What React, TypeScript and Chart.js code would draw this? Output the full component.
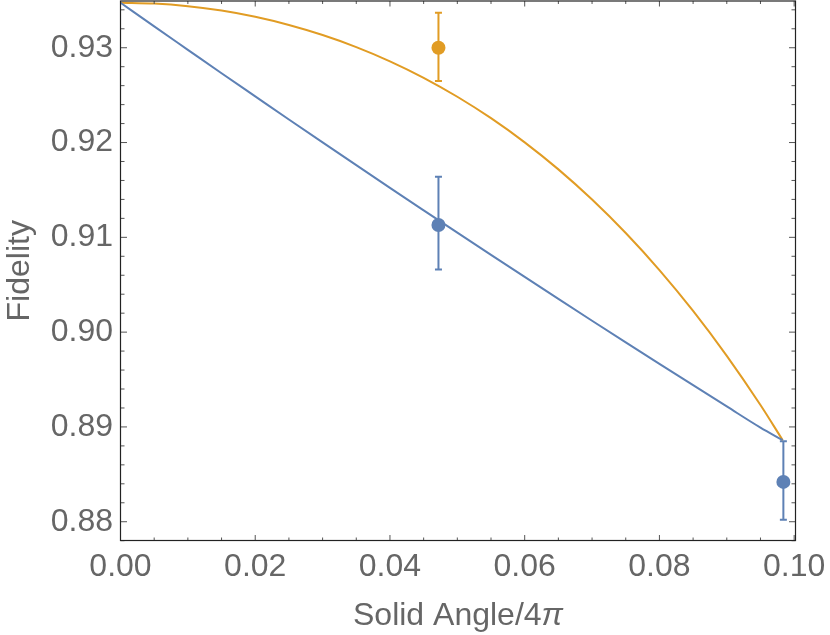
import { useEffect, useRef } from 'react';
import { Chart, registerables } from 'chart.js';

Chart.register(...registerables);

// ---- data ----
const curveX = [0, 0.005, 0.01, 0.015, 0.02, 0.025, 0.03, 0.035, 0.04, 0.045, 0.05, 0.055, 0.06, 0.065, 0.07, 0.075, 0.08, 0.085, 0.09, 0.095, 0.0983];
const blueCurveY = [0.93475, 0.93225, 0.92978, 0.92731, 0.92487, 0.92243, 0.92001, 0.91761, 0.91522, 0.91285, 0.91049, 0.90815, 0.90582, 0.9035, 0.9012, 0.89892, 0.89665, 0.8944, 0.89216, 0.88993, 0.8886];
const orangeCurveY = [0.93475, 0.93466, 0.93438, 0.93392, 0.93326, 0.9324, 0.93134, 0.93007, 0.92857, 0.92683, 0.92483, 0.92257, 0.92002, 0.91717, 0.91399, 0.91046, 0.90655, 0.90224, 0.8975, 0.89231, 0.8886];

const bluePointX = [0.0472, 0.0984];
const bluePointY = [0.9113, 0.8842];
const blueErrLow = [0.9066, 0.8802];
const blueErrHigh = [0.9164, 0.8885];

const orangePointX = [0.0472];
const orangePointY = [0.93];
const orangeErrLow = [0.9265];
const orangeErrHigh = [0.9337];

const xMajorTicks = [0, 0.02, 0.04, 0.06, 0.08, 0.1];
const xTickLabels = ['0.00', '0.02', '0.04', '0.06', '0.08', '0.10'];
const xMinorTicks = [0.005, 0.01, 0.015, 0.025, 0.03, 0.035, 0.045, 0.05, 0.055, 0.065, 0.07, 0.075, 0.085, 0.09, 0.095];
const yMajorTicks = [0.88, 0.89, 0.9, 0.91, 0.92, 0.93];
const yTickLabels = ['0.88', '0.89', '0.90', '0.91', '0.92', '0.93'];
const yMinorTicks = [0.878, 0.882, 0.884, 0.886, 0.888, 0.892, 0.894, 0.896, 0.898, 0.902, 0.904, 0.906, 0.908, 0.912, 0.914, 0.916, 0.918, 0.922, 0.924, 0.926, 0.928, 0.932, 0.934];

const xTitleMain = 'Solid Angle/4';
const xTitleSymbol = 'π';
const yTitle = 'Fidelity';

const X_MIN = 0;
const X_MAX = 0.1002;
const Y_MIN = 0.87802;
const Y_MAX = 0.93493;

const BLUE = 'rgb(94,129,181)';
const ORANGE = 'rgb(225,156,36)';
const TEXT = '#666666';
const FONT = "'Liberation Sans', Arial, sans-serif";

const errorBars = [
  { color: BLUE, x: bluePointX, lo: blueErrLow, hi: blueErrHigh },
  { color: ORANGE, x: orangePointX, lo: orangeErrLow, hi: orangeErrHigh },
];

const errorBarPlugin = {
  id: 'errorBars',
  beforeDatasetsDraw(chart: any) {
    const { ctx, scales } = chart;
    const xs = scales.x;
    const ys = scales.y;
    ctx.save();
    ctx.lineWidth = 2;
    errorBars.forEach((eb) => {
      ctx.strokeStyle = eb.color;
      eb.x.forEach((xv, i) => {
        const px = xs.getPixelForValue(xv);
        const pLo = ys.getPixelForValue(eb.lo[i]);
        const pHi = ys.getPixelForValue(eb.hi[i]);
        ctx.beginPath();
        ctx.moveTo(px, pLo);
        ctx.lineTo(px, pHi);
        ctx.moveTo(px - 3.5, pLo);
        ctx.lineTo(px + 3.5, pLo);
        ctx.moveTo(px - 3.5, pHi);
        ctx.lineTo(px + 3.5, pHi);
        ctx.stroke();
      });
    });
    ctx.restore();
  },
};

const framePlugin = {
  id: 'frameTicks',
  afterDraw(chart: any) {
    const { ctx, chartArea, scales } = chart;
    const { left, right, top, bottom } = chartArea;
    const xs = scales.x;
    const ys = scales.y;
    ctx.save();
    ctx.strokeStyle = '#555555';
    ctx.lineWidth = 1;
    const tick = (x1: number, y1: number, x2: number, y2: number) => {
      ctx.beginPath();
      ctx.moveTo(x1, y1);
      ctx.lineTo(x2, y2);
      ctx.stroke();
    };
    xMajorTicks.forEach((v) => {
      const p = xs.getPixelForValue(v);
      if (p < left - 0.5 || p > right + 0.5) return;
      tick(p, bottom, p, bottom - 5.5);
      tick(p, top, p, top + 5.5);
    });
    xMinorTicks.forEach((v) => {
      const p = xs.getPixelForValue(v);
      tick(p, bottom, p, bottom - 3);
      tick(p, top, p, top + 3);
    });
    yMajorTicks.forEach((v) => {
      const p = ys.getPixelForValue(v);
      tick(left, p, left + 6.5, p);
      tick(right, p, right - 6.5, p);
    });
    yMinorTicks.forEach((v) => {
      const p = ys.getPixelForValue(v);
      tick(left, p, left + 4, p);
      tick(right, p, right - 4, p);
    });
    ctx.strokeStyle = '#222222';
    ctx.lineWidth = 1.2;
    ctx.strokeRect(left, top, right - left, bottom - top);

    // x-axis title with an italic pi, as in the reference
    const normal = `32px ${FONT}`;
    const italic = `italic 32px ${FONT}`;
    ctx.font = normal;
    const w1 = ctx.measureText(xTitleMain).width;
    ctx.font = italic;
    const w2 = ctx.measureText(xTitleSymbol).width;
    const cx = (left + right) / 2;
    const x0 = cx - (w1 + w2) / 2;
    const baseline = 625;
    ctx.fillStyle = TEXT;
    ctx.textAlign = 'left';
    ctx.textBaseline = 'alphabetic';
    ctx.font = normal;
    ctx.fillText(xTitleMain, x0, baseline);
    ctx.font = italic;
    ctx.fillText(xTitleSymbol, x0 + w1, baseline);
    ctx.restore();
  },
};

export default function App() {
  const ref = useRef<HTMLCanvasElement | null>(null);

  useEffect(() => {
    if (!ref.current) return;
    const chart = new Chart(ref.current, {
      type: 'scatter',
      data: {
        datasets: [
          {
            type: 'line',
            data: curveX.map((x, i) => ({ x, y: blueCurveY[i] })),
            borderColor: BLUE,
            borderWidth: 2,
            pointRadius: 0,
            fill: false,
            cubicInterpolationMode: 'monotone',
          } as any,
          {
            type: 'line',
            data: curveX.map((x, i) => ({ x, y: orangeCurveY[i] })),
            borderColor: ORANGE,
            borderWidth: 2,
            pointRadius: 0,
            fill: false,
            cubicInterpolationMode: 'monotone',
          } as any,
          {
            type: 'scatter',
            data: bluePointX.map((x, i) => ({ x, y: bluePointY[i] })),
            backgroundColor: BLUE,
            borderWidth: 0,
            pointRadius: 7,
            showLine: false,
          } as any,
          {
            type: 'scatter',
            data: orangePointX.map((x, i) => ({ x, y: orangePointY[i] })),
            backgroundColor: ORANGE,
            borderWidth: 0,
            pointRadius: 7,
            showLine: false,
          } as any,
        ],
      },
      options: {
        responsive: false,
        animation: false,
        events: [],
        layout: { autoPadding: false, padding: { top: 1, right: 34.5, bottom: 0, left: 0 } },
        plugins: {
          legend: { display: false },
          tooltip: { enabled: false },
        },
        scales: {
          x: {
            type: 'linear',
            min: X_MIN,
            max: X_MAX,
            grid: { display: false, drawTicks: false },
            border: { display: false },
            afterBuildTicks: (scale: any) => {
              scale.ticks = xMajorTicks.map((v) => ({ value: v }));
            },
            afterFit: (scale: any) => {
              scale.height = 94.5;
              scale.paddingLeft = 0;
              scale.paddingRight = 0;
              scale.paddingTop = 0;
              scale.paddingBottom = 0;
            },
            ticks: {
              autoSkip: false,
              maxRotation: 0,
              padding: 7,
              color: TEXT,
              font: { family: FONT, size: 32 },
              callback: (_v: any, i: number) => xTickLabels[i],
            },
            title: { display: false },
          },
          y: {
            type: 'linear',
            min: Y_MIN,
            max: Y_MAX,
            grid: { display: false, drawTicks: false },
            border: { display: false },
            afterBuildTicks: (scale: any) => {
              scale.ticks = yMajorTicks.map((v) => ({ value: v }));
            },
            afterFit: (scale: any) => {
              scale.width = 120.5;
              scale.paddingLeft = 0;
              scale.paddingRight = 0;
              scale.paddingTop = 0;
              scale.paddingBottom = 0;
            },
            ticks: {
              autoSkip: false,
              padding: 7.5,
              color: TEXT,
              font: { family: FONT, size: 32 },
              callback: (_v: any, i: number) => yTickLabels[i],
            },
            title: {
              display: true,
              text: yTitle,
              color: TEXT,
              font: { family: FONT, size: 32, lineHeight: 1.2 },
              padding: { top: 1, bottom: 0 },
            },
          },
        },
      } as any,
      plugins: [errorBarPlugin, framePlugin],
    });
    return () => chart.destroy();
  }, []);

  return (
    <div style={{ position: 'absolute', left: 0, top: 0, width: 830, height: 635, background: '#fff' }}>
      <canvas ref={ref} width={830} height={635} style={{ display: 'block' }} />
    </div>
  );
}
